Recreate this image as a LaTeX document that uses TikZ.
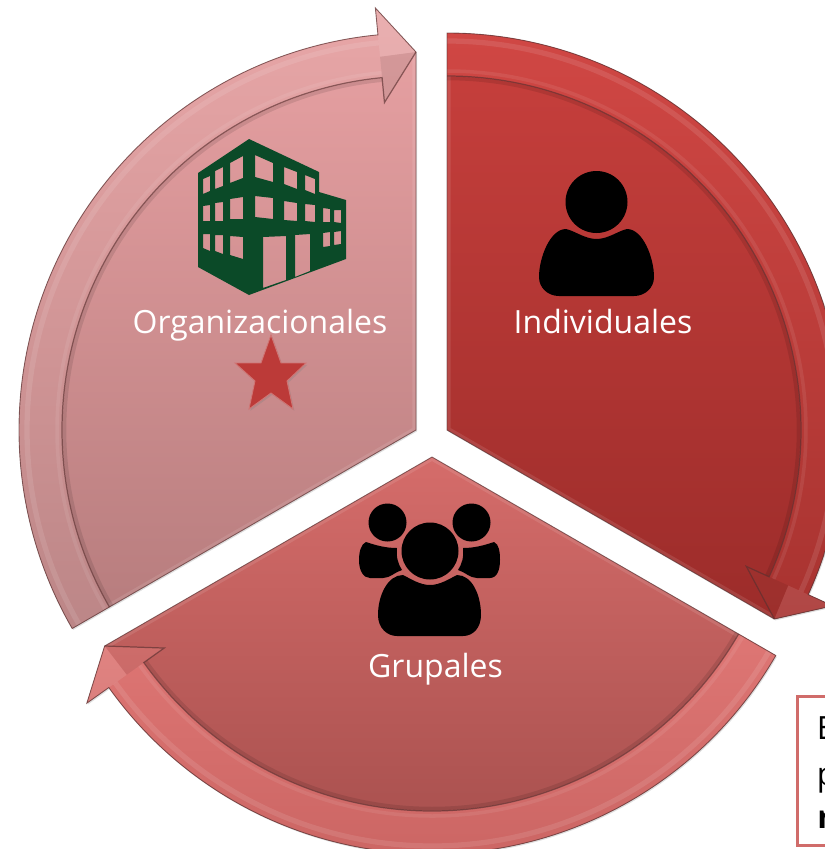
\documentclass[tikz,border=0pt]{standalone}
\usepackage{fontspec}
\setmainfont{Open Sans}
\usepackage{tikz}
\usetikzlibrary{calc,shadows}

% colours picked from the segments
\definecolor{indTop}{HTML}{C8403D}
\definecolor{indBot}{HTML}{9C2C2A}
\definecolor{indBand}{HTML}{D04744}
\definecolor{indBandB}{HTML}{A83330}
\definecolor{gruTop}{HTML}{D56C6A}
\definecolor{gruBot}{HTML}{A64F4D}
\definecolor{gruBand}{HTML}{DE7674}
\definecolor{gruBandB}{HTML}{CC6664}
\definecolor{orgTop}{HTML}{E9A2A4}
\definecolor{orgBot}{HTML}{B67C7D}
\definecolor{orgBand}{HTML}{E8A6A7}
\definecolor{orgBandB}{HTML}{BC8687}
\definecolor{edgeDark}{HTML}{5A3030}
\definecolor{buildGreen}{HTML}{0B4A28}
\definecolor{starRed}{HTML}{BC3A38}
\definecolor{boxRed}{HTML}{D06C6A}

\tikzset{
    seglabel/.style={anchor=base, text=white, font=\fontsize{18.2}{22}\selectfont},
    boxletter/.style={anchor=base west, text=black, inner sep=0pt, font=\fontsize{18.2}{22}\selectfont},
    icon/.style={fill=black, draw=none},
}

\begin{document}
\begin{tikzpicture}[x=0.02cm, y=0.02cm, yscale=-1]
    \useasboundingbox (0,0) rectangle (825,849);
    \clip (0,0) rectangle (825,849);

    % three segments: apex / start angle / colours
    \foreach \ax/\ay/\s/\ctop/\cbot/\bandt/\bandb in {
        447/430/-90/indTop/indBot/indBand/indBandB,
        432/457/30/gruTop/gruBot/gruBand/gruBandB,
        416/430/150/orgTop/orgBot/orgBand/orgBandB}{
        \pgfmathsetmacro{\e}{\s+120}
        \pgfmathsetmacro{\b}{\e-5.5}
        \coordinate (apex) at (\ax,\ay);
        \coordinate (outerStart) at ($(apex)+(\s:397)$);
        \coordinate (innerStart) at ($(apex)+(\s:354)$);
        \coordinate (outerEnd) at ($(apex)+(\b:397)$);
        \coordinate (innerEnd) at ($(apex)+(\b:354)$);
        \coordinate (barbOut) at ($(apex)+(\b:424)$);
        \coordinate (barbIn) at ($(apex)+(\b:329)$);
        \coordinate (tip) at ($(apex)+(\e:378)$);

        % body
        \path[top color=\ctop, bottom color=\cbot, drop shadow={shadow xshift=0.6pt, shadow yshift=-0.8pt, opacity=0.25}]
            (apex) -- (outerStart) arc[start angle=\s, end angle=\b, radius=397]
            -- (barbOut) -- (tip) -- cycle;

        % lighter rim along the straight edges
        \begin{scope}
            \clip (apex) -- (outerStart) arc[start angle=\s, end angle=\b, radius=397] -- (barbOut) -- (tip) -- cycle;
            \draw[white, opacity=0.1, line width=4pt] (apex) -- (outerStart) (apex) -- (tip);
        \end{scope}

        % soft shadow under the band
        \draw[black, opacity=0.1, line width=2pt] ($(apex)+(\s:351.5)$) arc[start angle=\s, end angle=\b, radius=351.5];

        % band and arrow head
        \path[top color=\bandt, bottom color=\bandb]
            (outerStart) arc[start angle=\s, end angle=\b, radius=397]
            -- (barbOut) -- (tip) -- (barbIn) -- (innerEnd)
            arc[start angle=\b, end angle=\s, radius=354] -- cycle;
        \fill[white, opacity=0.1] (barbOut) -- (tip) -- ($(apex)+(\b:375)$) -- cycle;
        \fill[black, opacity=0.07] (barbIn) -- (tip) -- ($(apex)+(\b:375)$) -- cycle;

        % bevel lines
        \draw[edgeDark, line width=0.7pt, opacity=0.65] (innerStart) arc[start angle=\s, end angle=\b, radius=354] -- (barbIn) -- (tip);
        \draw[white, line width=3pt, opacity=0.1] ($(apex)+(\s:389)$) arc[start angle=\s, end angle=\b, radius=389];
        \draw[white, line width=2pt, opacity=0.08] ($(apex)+(\s:359)$) arc[start angle=\s, end angle=\b, radius=359];
        \draw[edgeDark, line width=0.5pt, opacity=0.7] (apex) -- (outerStart) arc[start angle=\s, end angle=\b, radius=397] -- (barbOut) -- (tip) -- cycle;
    }

    % person
    \path[icon] (596.5,202) circle (31);
    \path[icon] (566,229) .. controls (575,231) and (585,239) .. (596.5,239)
        .. controls (608,239) and (618,231) .. (627,229)
        .. controls (643,229) and (654,258) .. (654,277)
        .. controls (654,288) and (645,296) .. (634,296)
        -- (559,296) .. controls (548,296) and (539,288) .. (539,277)
        .. controls (539,258) and (550,229) .. (566,229) -- cycle;

    % group
    \path[icon] (387.5,522.5) circle (19);
    \path[icon] (471.5,522.5) circle (19);
    \path[icon] (430,551) circle (28.5);
    \path[icon] (366,542) .. controls (375,545) and (385,548) .. (397,548)
        .. controls (396,557) and (398,564) .. (402,570)
        .. controls (395,572) and (390,578) .. (383,578)
        -- (370,578) .. controls (363,578) and (359,570) .. (359,560)
        .. controls (359,552) and (361,544) .. (366,542) -- cycle;
    \path[icon] (494,542) .. controls (485,545) and (475,548) .. (463,548)
        .. controls (464,557) and (462,564) .. (458,570)
        .. controls (465,572) and (470,578) .. (477,578)
        -- (490,578) .. controls (497,578) and (500,570) .. (500,560)
        .. controls (500,552) and (499,544) .. (494,542) -- cycle;
    \path[icon] (403,575) .. controls (411,579) and (420,585) .. (430,585)
        .. controls (440,585) and (449,579) .. (457,575)
        .. controls (472,575) and (481,595) .. (481,615)
        .. controls (481,628) and (473,636) .. (463,636)
        -- (397,636) .. controls (387,636) and (378,628) .. (378,615)
        .. controls (378,595) and (388,575) .. (403,575) -- cycle;

    % building
    \path[fill=buildGreen, even odd rule]
        (249,139) -- (198,173) -- (198,267) -- (249,295) -- (346,259) -- (346,200) -- (319,192) -- (319,172) -- cycle
        (203,179) -- (210,176) -- (210,191) -- (203,194) -- cycle
        (215,171) -- (223,167) -- (223,186) -- (215,189) -- cycle
        (230,163) -- (243,156) -- (243,178) -- (230,183) -- cycle
        (255,155) -- (273,163) -- (273,182) -- (255,177) -- cycle
        (284,167) -- (297,172) -- (297,189) -- (284,184) -- cycle
        (305,175) -- (315,179) -- (315,194) -- (305,190) -- cycle
        (203,206) -- (210,205) -- (210,221) -- (203,221) -- cycle
        (215,203) -- (223,202) -- (223,221) -- (215,221) -- cycle
        (230,199) -- (243,197) -- (243,219) -- (230,219) -- cycle
        (255,196) -- (273,198) -- (273,219) -- (255,217) -- cycle
        (284,201) -- (297,203) -- (297,221) -- (284,220) -- cycle
        (305,204) -- (315,205) -- (315,222) -- (305,221) -- cycle
        (323,208) -- (330,209) -- (330,222) -- (323,222) -- cycle
        (334,210) -- (341,210) -- (341,223) -- (334,222) -- cycle
        (203,234) -- (210,234) -- (210,251) -- (203,248) -- cycle
        (215,235) -- (223,235) -- (223,254) -- (215,251) -- cycle
        (230,236) -- (243,237) -- (243,259) -- (230,255) -- cycle
        (263,237) -- (286,236) -- (286,280) -- (263,288) -- cycle
        (295,235) -- (310,234) -- (310,271) -- (295,277) -- cycle
        (323,233) -- (330,232) -- (330,246) -- (323,247) -- cycle
        (334,232) -- (341,231) -- (341,244) -- (334,245) -- cycle;

    % star
    \path[fill=starRed, draw=starRed!70!white, line width=0.5pt, drop shadow={shadow xshift=0.8pt, shadow yshift=-1pt, opacity=0.3}]
        (271,335) -- (281,363) -- (306,363) -- (287,381) -- (293,409) -- (271,393) -- (249,409) -- (255,381) -- (235,363) -- (261,363) -- cycle;

    % labels
    \node[seglabel] (indLabel) at (603,333) {Individuales};
    \node[seglabel] (orgLabel) at (260,333) {Organizacionales};
    \node[seglabel] (gruLabel) at (435.5,677) {Grupales};

    % cut off text box
    \draw[boxRed, line width=1.7pt, fill=white] (797,696) rectangle (840,845);
    \node[boxletter] (boxE) at (816.5,739) {E};
    \node[boxletter] (boxP) at (816.5,785) {p};
    \node[boxletter] (boxR) at (817,828) {\textbf{r}};
\end{tikzpicture}
\end{document}
